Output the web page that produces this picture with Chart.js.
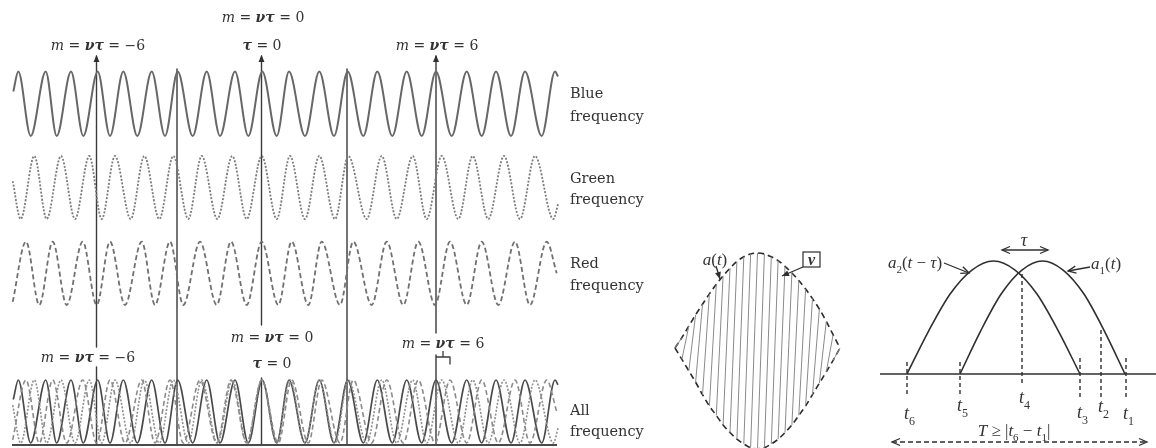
<!DOCTYPE html>
<html><head><meta charset="utf-8">
<script src="https://cdn.jsdelivr.net/npm/chart.js@4.4.0/dist/chart.umd.min.js"></script>
<style>html,body{margin:0;padding:0;background:#fff;}#wrap{position:relative;width:1156px;height:448px;}</style>
</head><body><div id="wrap"><canvas id="c" width="1156" height="448"></canvas></div>
<script>
// ===== DATA =====
// extrema times of each carrier and their normalized amplitude
const blueT = [13.3,18.3,30.7,45.7,56.7,71,83.3,97.7,110,123.3,137.3,151.7,165,177.7,192.7,206.7,220,235,248.3,262.3,276.7,289,305,319.3,334,347.7,363.3,377.3,392.3,406.7,421.7,436,451.7,466.7,481.7,496,511,525,541.7,555,558];
const blueV = [0.38,1,-1,1,-1,1,-1,1,-1,1,-1,1,-1,1,-1,1,-1,1,-1,1,-1,1,-1,1,-1,1,-1,1,-1,1,-1,1,-1,1,-1,1,-1,1,-1,1,0.85];
const greenT = [12.7,20.7,34.3,46.7,61,75,89.3,101.7,115,130.7,144.3,159.3,173.3,188.3,201.7,217.3,232.3,246.7,261.7,276.7,290,305,319.3,335,348.3,366.7,381.7,396.7,412.7,426.7,441.7,458.3,472.7,488.3,504,520,535,553.3,558.3];
const greenV = [0.2,-1,1,-1,1,-1,1,-1,1,-1,1,-1,1,-1,1,-1,1,-1,1,-1,1,-1,1,-1,1,-1,1,-1,1,-1,1,-1,1,-1,1,-1,1,-1,-0.5];
const redT = [12.7,26,39.3,52.7,66.7,82.7,96.7,110,125,141.7,155,170,183.3,200,216.7,231,246.7,261.7,278.3,291.7,308.3,321.7,340,353.3,371.7,386.7,403.3,418.3,435,450,466.7,481.7,498.3,515,530,546.7,556.7];
const redV = [-0.9,1,-1,1,-1,1,-1,1,-1,1,-1,1,-1,1,-1,1,-1,1,-1,1,-1,1,-1,1,-1,1,-1,1,-1,1,-1,1,-1,1,-1,1,0];
const rowNames = ['Blue','Green','Red','All'];
const markerM = [-6, 0, 6];            // m = ντ values marked
const markerT = [96.5, 261.5, 436];    // times of those markers
const guideT = [177, 347];             // extra guide lines
// pulse a(t) with carrier ν
const envT = [675,681.9,688.8,695.6,702.5,709.4,716.3,723.1,730,736.9,743.8,750.6,757.5,764.4,771.3,778.1,785,791.9,798.8,805.6,812.5,819.4,826.3,833.1,840];
const envUp = [0,0.11,0.23,0.35,0.46,0.57,0.67,0.76,0.84,0.91,0.96,0.99,1,0.99,0.96,0.92,0.86,0.79,0.71,0.62,0.52,0.41,0.28,0.14,0];
const envLo = [0,-0.12,-0.24,-0.36,-0.49,-0.61,-0.71,-0.81,-0.89,-0.96,-1.01,-1.05,-1.06,-1.05,-1.01,-0.96,-0.89,-0.81,-0.71,-0.61,-0.49,-0.37,-0.25,-0.13,0];
// two delayed envelopes
const a2T = [907,928.6,950.3,971.9,993.5,1015.1,1036.8,1058.4,1080];
const a1T = [960,980.6,1001.3,1021.9,1042.5,1063.1,1083.8,1104.4,1125];
const archV = [0,0.38,0.71,0.92,1,0.92,0.71,0.38,0];
const tickNames = ['6','5','4','3','2','1'];
const tickT = [907,960,1022,1080,1101,1126];

// ===== LAYOUT / STYLE =====
const ROW = {blue:{c:103.8,a:32.2}, green:{c:187.5,a:31.5}, red:{c:273.3,a:31.7}, all:{c:411.5,a:31.5}};
const DIA = {c:348, a:95};
const ARCH = {base:374, h:113};
const LEFTF = '"DejaVu Serif", serif';
const RIGHTF = '"Liberation Serif", "Times New Roman", serif';
const INK = '#333';

function wave(T, V, row){ return T.map((t,i)=>({x:t, y:row.c - row.a*V[i]})); }
function ds(data, color, width, dash, extra){
  return Object.assign({data, borderColor:color, borderWidth:width, borderDash:dash||[], pointRadius:0, fill:false, tension:0}, extra||{});
}
const mono = {cubicInterpolationMode:'monotone'};
const STY = {
  blue:['#676767',2,[]], green:['#7c7c7c',1.8,[2,1.6]], red:['#707070',1.8,[5,3]]
};

const datasets = [];
datasets.push(ds(wave(blueT,blueV,ROW.blue), ...STY.blue, mono));
datasets.push(ds(wave(greenT,greenV,ROW.green), ...STY.green, mono));
datasets.push(ds(wave(redT,redV,ROW.red), ...STY.red, mono));
datasets.push(ds(wave(redT,redV,ROW.all), '#8a8a8a',1.6,[5,3], mono));
datasets.push(ds(wave(greenT,greenV,ROW.all), '#8f8f8f',1.6,[2,1.6], mono));
datasets.push(ds(wave(blueT,blueV,ROW.all), '#4a4a4a',1.7,[], mono));
// baseline of "All"
datasets.push(ds([{x:12,y:445},{x:557,y:445}], '#4a4a4a', 1.8));
// marker lines with label gaps
const gaps = [[347,367],[325,378],[333,355]];
markerT.forEach((t,i)=>{
  datasets.push(ds([{x:t,y:56},{x:t,y:gaps[i][0]},{x:t,y:null},{x:t,y:gaps[i][1]},{x:t,y:445}], '#3a3a3a', 1.4));
});
guideT.forEach(t=>datasets.push(ds([{x:t,y:69},{x:t,y:445}], '#3a3a3a', 1.4)));
// small bracket at m = 6
datasets.push(ds([{x:436,y:357},{x:450,y:357},{x:450,y:364},{x:443,y:null},{x:443,y:357},{x:443,y:351}], '#3a3a3a', 1.3));
// pulse: carrier strokes (lower envelope -> upper envelope of next sample), then envelope
const carrier = [];
for(let i=0;i<envT.length-1;i++){
  carrier.push({x:envT[i], y:DIA.c - DIA.a*envLo[i]}, {x:envT[i+1], y:DIA.c - DIA.a*envUp[i+1]}, {x:envT[i+1], y:null});
}
datasets.push(ds(carrier, '#8a8a8a', 1));
datasets.push(ds(envT.map((t,i)=>({x:t, y:DIA.c - DIA.a*envUp[i]})), '#2a2a2a', 1.6, [6,4], mono));
datasets.push(ds(envT.map((t,i)=>({x:t, y:DIA.c - DIA.a*envLo[i]})), '#2a2a2a', 1.6, [6,4], mono));
// arches
datasets.push(ds(a2T.map((t,i)=>({x:t, y:ARCH.base - ARCH.h*archV[i]})), '#2f2f2f', 1.6, [], mono));
datasets.push(ds(a1T.map((t,i)=>({x:t, y:ARCH.base - ARCH.h*archV[i]})), '#2f2f2f', 1.6, [], mono));
datasets.push(ds([{x:880,y:ARCH.base},{x:1156,y:ARCH.base}], '#2f2f2f', 1.6));
const tickTop = [362,362,274,358,330,358], tickBot = [396,394,386,398,398,400];
const tickData = [];
tickT.forEach((t,i)=>{ tickData.push({x:t,y:tickTop[i]},{x:t,y:tickBot[i]},{x:t,y:null}); });
datasets.push(ds(tickData, '#2f2f2f', 1.4, [4,3]));

// ===== annotations =====
function fontStr(st,size,fam){
  const it = st.includes('i')?'italic ':''; const b = st.includes('b')?'bold ':'';
  const sz = st.includes('s')? Math.round(size*0.64) : size;
  return `${it}${b}${sz}px ${fam}`;
}
function drawRich(ctx, segs, x, y, align, size, fam, color){
  let w=0; const ms = segs.map(([s,st])=>{ ctx.font=fontStr(st,size,fam); const m=ctx.measureText(s).width; w+=m; return m; });
  let cx = align==='left'? x : align==='right'? x-w : x-w/2;
  ctx.fillStyle=color; ctx.textBaseline='alphabetic';
  const base = y + size*0.35;
  segs.forEach(([s,st],i)=>{ ctx.font=fontStr(st,size,fam); ctx.fillText(s, cx, base + (st.includes('s')? size*0.3:0)); cx+=ms[i]; });
}
const mLabel = m => [['m','i'],[' = ',''],['ντ','bi'],[' = '+(m<0?'−'+Math.abs(m):String(m)),'']];
const tauLabel = [['τ','bi'],[' = 0','']];
const TEXTS = [
  {segs:mLabel(0), x:263, y:17, align:'center', size:14, fam:LEFTF},
  {segs:tauLabel, x:262, y:45, align:'center', size:14, fam:LEFTF},
  {segs:mLabel(markerM[0]), x:98, y:45, align:'center', size:14, fam:LEFTF},
  {segs:mLabel(markerM[2]), x:437, y:45, align:'center', size:14, fam:LEFTF},
  {segs:mLabel(markerM[0]), x:88, y:357, align:'center', size:14, fam:LEFTF},
  {segs:mLabel(markerM[1]), x:272, y:337, align:'center', size:14, fam:LEFTF},
  {segs:tauLabel, x:272, y:363, align:'center', size:14, fam:LEFTF},
  {segs:mLabel(markerM[2]), x:443, y:343, align:'center', size:14, fam:LEFTF},
  {segs:[['a','i'],['(',''],['t','i'],[')','']], x:715, y:259, align:'center', size:17, fam:RIGHTF},
  {segs:[['ν','bi']], x:811.5, y:259, align:'center', size:16, fam:RIGHTF},
  {segs:[['τ','i']], x:1024, y:240, align:'center', size:18, fam:RIGHTF},
  {segs:[['a','i'],['2','s'],['(',''],['t','i'],[' − ',''],['τ','i'],[')','']], x:915, y:262, align:'center', size:17, fam:RIGHTF},
  {segs:[['a','i'],['1','s'],['(',''],['t','i'],[')','']], x:1091, y:263, align:'left', size:17, fam:RIGHTF},
  {segs:[['T','i'],[' ≥ |',''],['t','i'],['6','s'],[' − ',''],['t','i'],['1','s'],['|','']], x:1014, y:430, align:'center', size:17, fam:RIGHTF}
];
const rowY = [[93,116],[178,199],[263,285],[410,431]];
rowNames.forEach((n,i)=>{
  TEXTS.push({segs:[[n,'']], x:570, y:rowY[i][0], align:'left', size:14.5, fam:LEFTF});
  TEXTS.push({segs:[['frequency','']], x:570, y:rowY[i][1], align:'left', size:14.5, fam:LEFTF});
});
const tickLabY = [413,405,397,412,406,413];
tickT.forEach((t,i)=>TEXTS.push({segs:[['t','i'],[tickNames[i],'s']], x:t-3, y:tickLabY[i], align:'left', size:18, fam:RIGHTF}));

const ARROWS = [
  {x1:96.5,y1:64,x2:96.5,y2:55,style:'fill'},
  {x1:261.5,y1:64,x2:261.5,y2:55,style:'fill'},
  {x1:436,y1:64,x2:436,y2:55,style:'fill'},
  {x1:716,y1:266,x2:720,y2:279,style:'fill',line:true},
  {x1:803,y1:267,x2:782,y2:276,style:'fill',line:true},
  {x1:1002,y1:250,x2:1048,y2:250,style:'open',line:true,both:true},
  {x1:944,y1:263,x2:969,y2:273,style:'open',line:true},
  {x1:1090,y1:267,x2:1068,y2:271,style:'open',line:true},
  {x1:892,y1:442,x2:1147,y2:442,style:'open',line:true,both:true,dash:[5,3]}
];
function head(ctx,x1,y1,x2,y2,style){
  const a=Math.atan2(y2-y1,x2-x1), L=style==='fill'?7:8, H=style==='fill'?3:3.5;
  const bx=x2-L*Math.cos(a), by=y2-L*Math.sin(a);
  const px=-Math.sin(a)*H, py=Math.cos(a)*H;
  ctx.setLineDash([]);
  ctx.beginPath();
  if(style==='fill'){ ctx.moveTo(x2,y2); ctx.lineTo(bx+px,by+py); ctx.lineTo(bx-px,by-py); ctx.closePath(); ctx.fill(); }
  else { ctx.moveTo(bx+px,by+py); ctx.lineTo(x2,y2); ctx.lineTo(bx-px,by-py); ctx.stroke(); }
}
const annot = {
  id:'annot',
  afterDatasetsDraw(chart){
    const ctx=chart.ctx, X=v=>chart.scales.x.getPixelForValue(v), Y=v=>chart.scales.y.getPixelForValue(v);
    ctx.save();
    ctx.strokeStyle='#2f2f2f'; ctx.fillStyle='#2f2f2f'; ctx.lineWidth=1.3;
    ARROWS.forEach(a=>{
      const x1=X(a.x1),y1=Y(a.y1),x2=X(a.x2),y2=Y(a.y2);
      if(a.line){ ctx.setLineDash(a.dash||[]); ctx.beginPath(); ctx.moveTo(x1,y1); ctx.lineTo(x2,y2); ctx.stroke(); }
      head(ctx,x1,y1,x2,y2,a.style);
      if(a.both) head(ctx,x2,y2,x1,y1,a.style);
    });
    ctx.setLineDash([]); ctx.lineWidth=1.2;
    ctx.strokeRect(X(803), Y(252), X(820)-X(803), Y(267)-Y(252));
    TEXTS.forEach(t=>drawRich(ctx,t.segs,X(t.x),Y(t.y),t.align,t.size,t.fam,INK));
    ctx.restore();
  }
};

new Chart(document.getElementById('c'), {
  type:'line',
  data:{datasets},
  options:{
    responsive:false, animation:false, events:[],
    layout:{padding:0},
    plugins:{legend:{display:false}, tooltip:{enabled:false}, title:{display:false}},
    elements:{point:{radius:0}, line:{borderCapStyle:'butt', borderJoinStyle:'round'}},
    scales:{
      x:{type:'linear', min:0, max:1156, display:false},
      y:{type:'linear', min:0, max:448, reverse:true, display:false}
    }
  },
  plugins:[annot]
});
</script></body></html>
